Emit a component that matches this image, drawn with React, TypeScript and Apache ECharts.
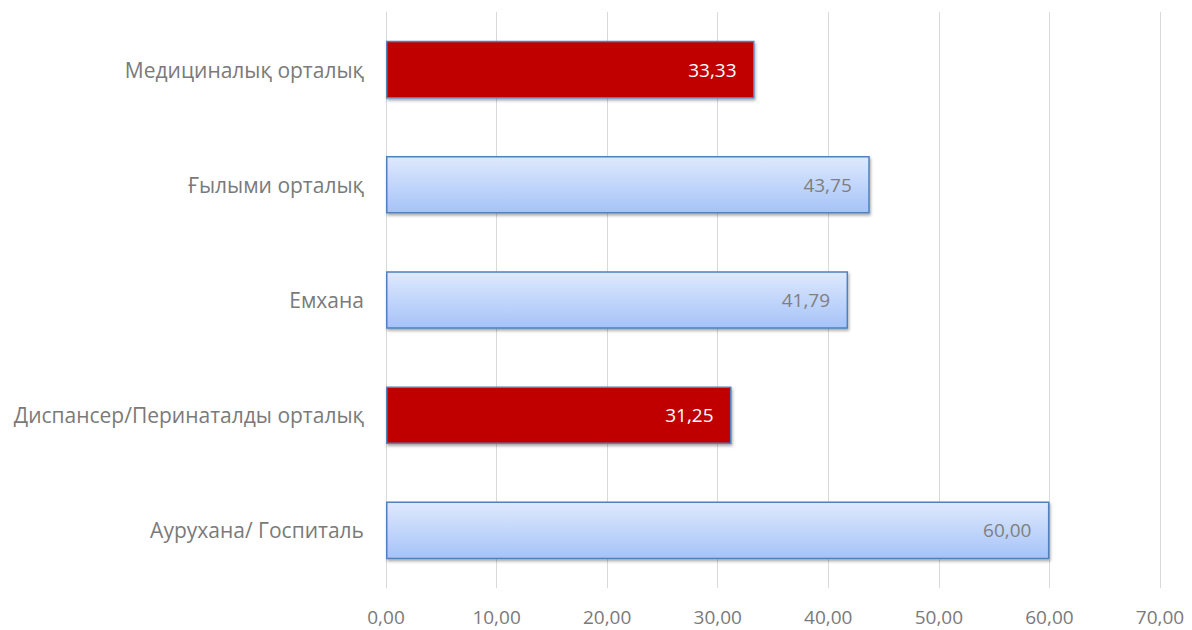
import React, { useEffect, useRef } from "react";
import * as echarts from "echarts";

const categories = [
  "Аурухана/ Госпиталь",
  "Диспансер/Перинаталды орталық",
  "Емхана",
  "Ғылыми орталық",
  "Медициналық орталық",
];
const values = [60.0, 31.25, 41.79, 43.75, 33.33];
const highlighted = [false, true, false, false, true];
const xTicks = { min: 0, max: 70, interval: 10 };

const FONT = "'Open Sans', sans-serif";

export default function App() {
  const ref = useRef<HTMLDivElement>(null);
  useEffect(() => {
    if (!ref.current) return;
    const chart = echarts.init(ref.current, null, { renderer: "svg" });
    const blueGrad = new echarts.graphic.LinearGradient(0, 0, 0, 1, [
      { offset: 0, color: "#DEE9FD" },
      { offset: 1, color: "#A5C3F8" },
    ]);
    chart.setOption({
      animation: false,
      grid: { left: 386, right: 32, top: 12, bottom: 42 },
      xAxis: {
        type: "value",
        min: xTicks.min,
        max: xTicks.max,
        interval: xTicks.interval,
        axisLine: { show: false },
        axisTick: { show: false },
        splitLine: { show: true, lineStyle: { color: "#D9D9D9", width: 1 } },
        axisLabel: {
          color: "#7A7A7A",
          fontSize: 19,
          fontFamily: FONT,
          margin: 19,
          formatter: (v: number) => v.toFixed(2).replace(".", ","),
        },
      },
      yAxis: {
        type: "category",
        data: categories,
        axisLine: { show: true, lineStyle: { color: "#D9D9D9" } },
        axisTick: { show: false },
        axisLabel: {
          color: "#7A7A7A",
          fontSize: 21,
          fontFamily: FONT,
          margin: 22,
        },
      },
      series: [
        {
          type: "bar",
          barCategoryGap: "50%",
          data: values.map((v, i) => ({
            value: v,
            itemStyle: {
              color: highlighted[i] ? "#C00000" : blueGrad,
              borderColor: "#4F81BD",
              borderWidth: 1.5,
              shadowColor: "rgba(0,0,0,0.35)",
              shadowBlur: 3,
              shadowOffsetX: 1,
              shadowOffsetY: 2,
            },
            label: {
              color: highlighted[i] ? "#FFFFFF" : "#7F7F7F",
            },
          })),
          label: {
            show: true,
            position: "insideRight",
            distance: 18,
            fontSize: 19,
            fontFamily: FONT,
            formatter: (p: any) => p.value.toFixed(2).replace(".", ","),
          },
        },
      ],
    });
    return () => chart.dispose();
  }, []);
  return <div ref={ref} style={{ width: 1192, height: 630, position: "absolute", left: 0, top: 0 }} />;
}
